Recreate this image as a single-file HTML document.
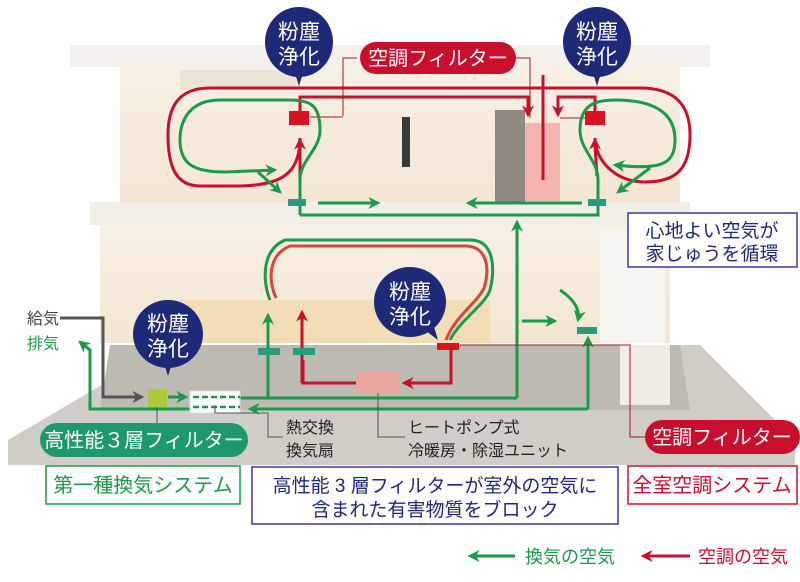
<!DOCTYPE html>
<html><head><meta charset="utf-8"><style>
html,body{margin:0;padding:0;background:#fff;}
svg{display:block;font-family:"Liberation Sans","Noto Sans CJK JP",sans-serif;}
</style></head><body>
<svg width="800" height="582" viewBox="0 0 800 582" xmlns="http://www.w3.org/2000/svg">
<defs>
<marker id="ag" viewBox="0 0 10 10" refX="8" refY="5" markerWidth="4" markerHeight="4" orient="auto"><path d="M0,0 L10,5 L0,10 L3,5 z" fill="#1a9a4a"/></marker>
<marker id="ar" viewBox="0 0 10 10" refX="8" refY="5" markerWidth="4" markerHeight="4" orient="auto"><path d="M0,0 L10,5 L0,10 L3,5 z" fill="#c8102e"/></marker>
<marker id="ak" viewBox="0 0 10 10" refX="8" refY="5" markerWidth="4" markerHeight="4" orient="auto"><path d="M0,0 L10,5 L0,10 L3,5 z" fill="#555"/></marker>
<linearGradient id="rm" x1="0" y1="0" x2="0" y2="1"><stop offset="0" stop-color="#f7f0e6"/><stop offset="1" stop-color="#f3e6d2"/></linearGradient>
</defs>
<!-- ground -->
<path d="M170,345 L700,345 L795,440 L795,465 L8,465 L8,440 Z" fill="#cfcdc6"/>
<path d="M110,345 L680,345 L690,410 L100,410 Z" fill="#bdbab2"/>
<!-- house -->
<rect x="70" y="45" width="640" height="22" fill="#f4f1ec"/>
<rect x="120" y="67" width="560" height="140" fill="url(#rm)"/>
<rect x="180" y="70" width="120" height="20" fill="#ebe3d6"/>
<rect x="495" y="110" width="30" height="95" fill="#8e8880"/>
<rect x="402" y="117" width="8" height="50" fill="#3a3a3a"/>
<rect x="90" y="202" width="600" height="23" fill="#f2eee8"/>
<rect x="100" y="225" width="570" height="118" fill="url(#rm)"/>
<rect x="160" y="300" width="330" height="43" fill="#f1d9a8" opacity="0.7"/>
<rect x="600" y="230" width="65" height="113" fill="#f7f5f0"/>
<rect x="620" y="345" width="50" height="60" fill="#f0ede7"/>
<rect x="525" y="123" width="35" height="78" fill="#f2aaa8" opacity="0.85"/>
<!-- red upper loops -->
<g fill="none" stroke="#c8102e" stroke-width="3">
<path d="M300,138 C300,175 280,185 240,186 L200,186 C175,186 168,165 168,135 C168,105 180,88 210,88 L640,88 C675,88 690,105 690,135 C690,170 675,182 645,182 C615,182 595,160 595,138" />
<path d="M300,118 L300,97 L528,97 L528,115" marker-end="url(#ar)"/>
<path d="M595,118 L595,97 L558,97 L558,115" marker-end="url(#ar)"/>
<path d="M300,180 L300,140" marker-end="url(#ar)"/>
<path d="M543,75 L543,180"/>
</g>
<path d="M597,176 C596,160 595,150 595,140" fill="none" stroke="#c8102e" stroke-width="3" marker-end="url(#ar)"/>
<rect x="289" y="111" width="20" height="14" fill="#d7141b"/>
<rect x="585" y="111" width="20" height="14" fill="#d7141b"/>
<path d="M343,116 L343,58 L357,58 M310,117 L343,117" fill="none" stroke="#9b1b1b" stroke-width="1"/>
<path d="M515,58 L530,58 L530,118 M560,118 L585,118" fill="none" stroke="#9b1b1b" stroke-width="1"/>
<!-- green upper -->
<g fill="none" stroke="#1a9a4a" stroke-width="3">
<path d="M300,215 L300,180 C300,160 320,150 320,130 C320,105 310,100 290,100 L220,100 C190,100 180,120 180,140 C180,165 195,172 225,172 L275,170" marker-end="url(#ag)"/>
<path d="M258,172 L280,192" marker-end="url(#ag)"/>
<path d="M300,215 L598,215 L598,180 C598,160 580,150 580,130 C580,105 595,100 615,100 C650,100 675,110 675,140 C675,165 660,170 615,165" marker-end="url(#ag)"/>
<path d="M650,168 L618,192" marker-end="url(#ag)"/>
<path d="M318,203 L378,203" marker-end="url(#ag)"/>
<path d="M582,203 L468,203" marker-end="url(#ag)"/>
<path d="M517,398 L517,222" marker-end="url(#ag)"/>
</g>
<rect x="288" y="199" width="18" height="7" fill="#2a9a7a"/>
<rect x="588" y="199" width="18" height="7" fill="#2a9a7a"/>
<!-- lower loops -->
<g fill="none" stroke-width="3">
<path d="M270,300 C262,280 262,250 285,240 L470,240 C495,240 495,270 490,290 C485,305 460,320 450,340" stroke="#1a9a4a"/>
<path d="M276,298 C268,280 268,255 290,246 L465,246 C488,246 490,270 484,288 C478,302 455,316 446,340" stroke="#d9463a"/>
</g>
<g fill="none" stroke-width="3">
<path d="M268,398 L268,315" stroke="#1a9a4a" marker-end="url(#ag)"/>
<path d="M303,360 L303,383 L356,383 M302,383 L302,312" stroke="#c8102e" marker-end="url(#ar)"/>
<path d="M451,350 L451,383 L404,383" stroke="#c8102e" marker-end="url(#ar)"/>
<path d="M240,398 L517,398" stroke="#1a9a4a"/>
<path d="M560,290 C575,300 580,310 578,320" stroke="#1a9a4a" marker-end="url(#ag)"/>
<path d="M522,321 L555,321" stroke="#1a9a4a" marker-end="url(#ag)"/>
<path d="M588,409 L588,338" stroke="#1a9a4a" marker-end="url(#ag)"/>
<path d="M588,409 L250,409" stroke="#1a9a4a" marker-end="url(#ag)"/>
<path d="M190,409 L90,409 L90,350 L80,342" stroke="#1a9a4a" marker-end="url(#ag)"/>
<path d="M60,318 L103,318 L103,397 L142,397" stroke="#555" marker-end="url(#ak)"/>
<path d="M168,397 L186,397" stroke="#1a9a4a" marker-end="url(#ag)"/>
</g>
<rect x="258" y="348" width="22" height="7" fill="#2a9a7a"/>
<rect x="293" y="348" width="22" height="7" fill="#2a9a7a"/>
<rect x="577" y="327" width="20" height="7" fill="#2a9a7a"/>
<rect x="437" y="343" width="22" height="7" fill="#d7141b"/>
<rect x="356" y="372" width="44" height="21" fill="#eba6a0"/>
<rect x="148" y="389" width="19" height="18" fill="#a9c83a"/>
<rect x="190" y="391" width="50" height="22" fill="#fff" stroke="#ddd"/>
<g stroke="#1a9a4a" stroke-width="2.5" stroke-dasharray="6,3"><line x1="193" y1="397" x2="240" y2="397"/><line x1="193" y1="407" x2="240" y2="407"/></g>
<!-- leader lines -->
<g fill="none" stroke="#555" stroke-width="1">
<path d="M157,407 L157,425"/><path d="M215,405 L215,413 L268,413 L268,437 L283,437"/>
<path d="M378,393 L378,437 L405,437"/>
</g>
<path d="M460,345 L630,345 L630,437 L647,437" fill="none" stroke="#9b1b1b" stroke-width="1"/>
<!-- bubbles -->
<g fill="#1e2a78">
<ellipse cx="299" cy="42" rx="34" ry="35"/><path d="M294,70 L304,70 L299,86 Z"/>
<ellipse cx="597" cy="42" rx="34" ry="35"/><path d="M592,70 L602,70 L597,86 Z"/>
<ellipse cx="168" cy="334" rx="35" ry="34"/><path d="M163,360 L173,360 L168,376 Z"/>
<ellipse cx="410" cy="302" rx="36" ry="35"/><path d="M422,328 L432,320 L438,340 Z"/>
</g>
<g fill="#fff" font-size="21" text-anchor="middle">
<text x="299" y="39">粉塵</text><text x="299" y="64">浄化</text>
<text x="597" y="39">粉塵</text><text x="597" y="64">浄化</text>
<text x="168" y="331">粉塵</text><text x="168" y="356">浄化</text>
<text x="410" y="299">粉塵</text><text x="410" y="324">浄化</text>
</g>
<!-- pills -->
<rect x="360" y="42" width="156" height="32" rx="16" fill="#c8102e"/>
<text x="438" y="65" fill="#fff" font-size="20" text-anchor="middle">空調フィルター</text>
<rect x="40" y="423" width="208" height="34" rx="17" fill="#1e9a6a"/>
<text x="144" y="447" fill="#fff" font-size="20" text-anchor="middle">高性能３層フィルター</text>
<rect x="645" y="420" width="155" height="34" rx="17" fill="#c8102e"/>
<text x="722" y="444" fill="#fff" font-size="20" text-anchor="middle">空調フィルター</text>
<!-- labels -->
<g font-size="16" fill="#222">
<text x="286" y="433">熱交換</text><text x="286" y="456">換気扇</text>
<text x="408" y="433">ヒートポンプ式</text><text x="408" y="456">冷暖房・除湿ユニット</text>
</g>
<text x="27" y="324" font-size="16" fill="#444">給気</text>
<text x="27" y="349" font-size="16" fill="#1a9a4a">排気</text>
<!-- boxes -->
<rect x="628" y="213" width="169" height="54" fill="#fff" stroke="#3a3a9a" stroke-width="1.5"/>
<text x="712" y="237" font-size="19" fill="#1e2a78" text-anchor="middle">心地よい空気が</text>
<text x="712" y="260" font-size="19" fill="#1e2a78" text-anchor="middle">家じゅうを循環</text>
<rect x="46" y="466" width="194" height="38" fill="#fff" stroke="#1a9a4a" stroke-width="1.5"/>
<text x="143" y="492" font-size="20" fill="#1a9a4a" text-anchor="middle">第一種換気システム</text>
<rect x="252" y="467" width="366" height="57" fill="#fff" stroke="#3a3a9a" stroke-width="1.5"/>
<text x="435" y="492" font-size="19" fill="#1e2a78" text-anchor="middle">高性能 3 層フィルターが室外の空気に</text>
<text x="435" y="516" font-size="19" fill="#1e2a78" text-anchor="middle">含まれた有害物質をブロック</text>
<rect x="628" y="466" width="169" height="38" fill="#fff" stroke="#c8102e" stroke-width="1.5"/>
<text x="712" y="492" font-size="20" fill="#c8102e" text-anchor="middle">全室空調システム</text>
<!-- legend -->
<line x1="515" y1="556" x2="470" y2="556" stroke="#1a9a4a" stroke-width="3" marker-end="url(#ag)"/>
<text x="525" y="563" font-size="18" fill="#1a9a4a">換気の空気</text>
<line x1="690" y1="556" x2="643" y2="556" stroke="#c8102e" stroke-width="3" marker-end="url(#ar)"/>
<text x="698" y="563" font-size="18" fill="#c8102e">空調の空気</text>
</svg>
</body></html>
